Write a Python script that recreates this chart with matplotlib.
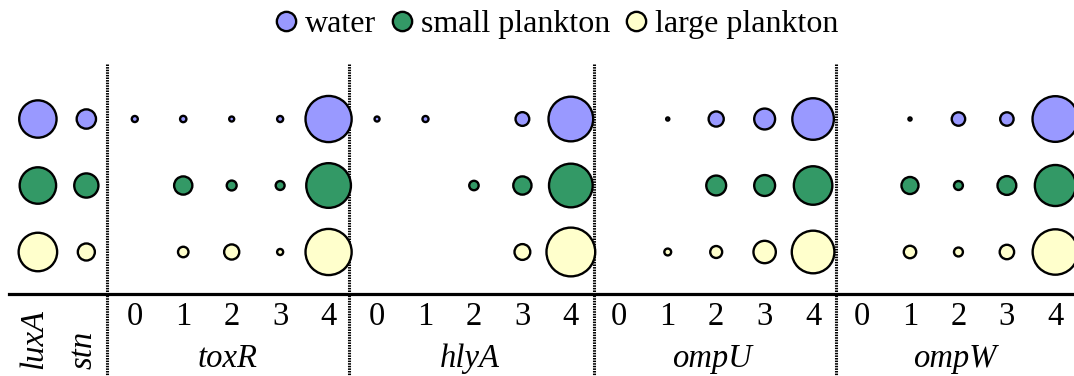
import numpy as np
import matplotlib.pyplot as plt

plt.rcParams['font.family'] = ['Liberation Serif', 'DejaVu Serif']

# gene groups and the PCR band classes shown for each
single_genes = ['luxA', 'stn']
groups = ['toxR', 'hlyA', 'ompU', 'ompW']
classes = ['0', '1', '2', '3', '4']

# relative detection (bubble area), 0 = not detected
water = [67, 20,
         3, 3.2, 2.3, 3, 100,
         2.3, 3, 0, 11, 94,
         0, 1.3, 13, 23, 82,
         0, 1.3, 10.6, 10.6, 98]
small_plankton = [64, 30,
                  0, 18, 6.4, 5.4, 94,
                  0, 0, 5.9, 18, 90,
                  0, 0, 21, 23, 71,
                  0, 16, 5.4, 19, 80]
large_plankton = [71, 16,
                  0, 7, 13, 3, 100,
                  0, 0, 0, 14, 111,
                  0, 3.6, 8.7, 26, 86,
                  0, 9.3, 5.4, 12, 97]

series = [('water', water, '#9999FF'),
          ('small plankton', small_plankton, '#339966'),
          ('large plankton', large_plankton, '#FFFFCC')]

fig = plt.figure(figsize=(10.74, 3.76), dpi=100)
ax = fig.add_axes([0, 0, 1, 1])
ax.set_xlim(-0.782, 21.385)
ax.set_ylim(3.865, -1.79)
ax.axis('off')

lw = 1.7
lw_px = lw / 0.72
handles = []
for row, (name, vals, col) in enumerate(series):
    v = np.array(vals, dtype=float)
    x = np.arange(len(v))
    keep = v > 0
    # outer diameter ~48.5 px at 100, minus the stroke
    d_pt = 0.72 * (48.5 * np.sqrt(v[keep] / 100.0) - lw_px)
    ax.scatter(x[keep], np.full(keep.sum(), row), s=d_pt ** 2, c=col,
               edgecolors='black', linewidths=lw, zorder=3, clip_on=False)
    handles.append(plt.Line2D([], [], marker='o', ls='', markersize=13.9,
                              markerfacecolor=col, markeredgecolor='black',
                              markeredgewidth=lw, label=name))

# baseline and group separators
ax.plot([-0.597, 21.385], [2.636, 2.636], color='black', lw=2.3, zorder=2)
for sx in [1.42, 6.43, 11.47, 16.48]:
    ax.plot([sx, sx], [-0.827, 3.865], color='black', lw=2.2,
            ls=(0, (0.5, 0.35)), zorder=1)

# column labels
fs = 23.5
for i, g in enumerate(single_genes):
    ax.text(i - 0.09 + 0.02 * i, 3.76, g, rotation=90, ha='center', va='bottom',
            fontsize=fs, style='italic')
for k, g in enumerate(groups):
    start = 2 + 5 * k
    for j, c in enumerate(classes):
        ax.text(start + j, 2.98, c, ha='center', va='center', fontsize=fs)
    ax.text(start + 2 - 0.08, 3.73, g, ha='center', va='baseline',
            fontsize=fs, style='italic')

fig.legend(handles=handles, loc='center', bbox_to_anchor=(0.517, 0.935),
           ncol=3, frameon=False, fontsize=23, handlelength=0.9,
           handletextpad=0.15, columnspacing=0.35, borderpad=0)

fig.savefig('out.png', dpi=100)
